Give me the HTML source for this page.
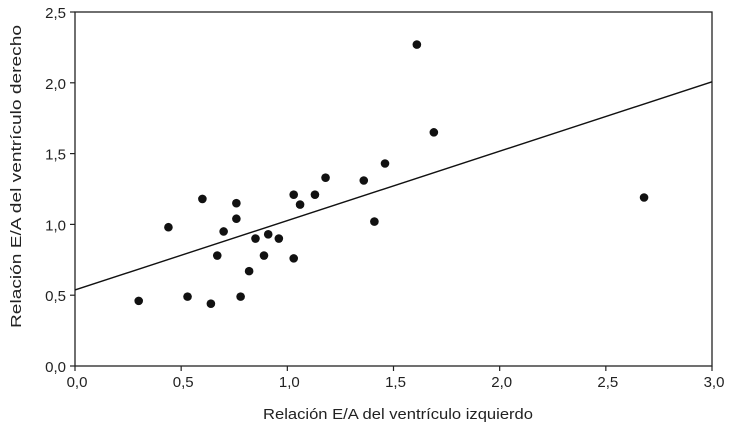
<!DOCTYPE html>
<html><head><meta charset="utf-8"><style>
html,body{margin:0;padding:0;background:#fff;}
svg text{font-family:"Liberation Sans Narrow","Liberation Sans",sans-serif;font-size:15px;fill:#222;}
</style></head><body>
<svg id="chart" width="730" height="429" xmlns="http://www.w3.org/2000/svg"></svg>
<script>
const xTicks=[0,0.5,1.0,1.5,2.0,2.5,3.0];
const yTicks=[0,0.5,1.0,1.5,2.0,2.5];
const xTickLabels=["0,0","0,5","1,0","1,5","2,0","2,5","3,0"];
const yTickLabels=["0,0","0,5","1,0","1,5","2,0","2,5"];
const xVals=[0.30,0.44,0.53,0.60,0.64,0.67,0.70,0.76,0.76,0.78,0.82,0.85,0.89,0.91,0.96,1.03,1.03,1.06,1.13,1.18,1.36,1.41,1.46,1.61,1.69,2.68];
const yVals=[0.46,0.98,0.49,1.18,0.44,0.78,0.95,1.15,1.04,0.49,0.67,0.90,0.78,0.93,0.90,1.21,0.76,1.14,1.21,1.33,1.31,1.02,1.43,2.27,1.65,1.19];
const lineIntercept=[0.537];
const lineSlope=[0.49];
const L=75,R=712,T=12,B=366;
const sx=v=>L+v/3*(R-L);
const sy=v=>B-v/2.5*(B-T);
const svg=document.getElementById('chart');
const NS='http://www.w3.org/2000/svg';
function mk(tag,attrs,parent){const e=document.createElementNS(NS,tag);for(const k in attrs)e.setAttribute(k,attrs[k]);(parent||svg).appendChild(e);return e;}
const frame=mk('rect',{x:L,y:T,width:R-L,height:B-T,fill:'none',stroke:'#222','stroke-width':1.3});


xTicks.forEach((v,i)=>{
 const t=mk('line',{x1:sx(v),x2:sx(v),y1:B,y2:B+5,stroke:'#222','stroke-width':1.2});
 
 
 const l=mk('text',{x:sx(v)+2,y:B+21,'text-anchor':'middle','font-size':16});l.textContent=xTickLabels[i];
 
 
});
yTicks.forEach((v,i)=>{
 const t=mk('line',{x1:L-5,x2:L,y1:sy(v),y2:sy(v),stroke:'#222','stroke-width':1.2});
 
 
 const l=mk('text',{x:L-9,y:sy(v)+6,'text-anchor':'end','font-size':16});l.textContent=yTickLabels[i];
 
 
});
const rl=mk('line',{x1:sx(0),y1:sy(lineIntercept[0]),x2:sx(3),y2:sy(lineIntercept[0]+lineSlope[0]*3),stroke:'#111','stroke-width':1.4});


xVals.forEach((x,i)=>{
 const c=mk('circle',{cx:sx(x),cy:sy(yVals[i]),r:4.3,fill:'#111'});
 
 
});
const xt=mk('text',{x:263,y:419,'font-size':17,textLength:270,lengthAdjust:'spacingAndGlyphs'});xt.textContent='Relación E/A del ventrículo izquierdo';


const yt=mk('text',{x:0,y:0,'font-size':17,textLength:303,lengthAdjust:'spacingAndGlyphs',transform:'translate(21,328) rotate(-90)'});yt.textContent='Relación E/A del ventrículo derecho';


</script>
</body></html>
